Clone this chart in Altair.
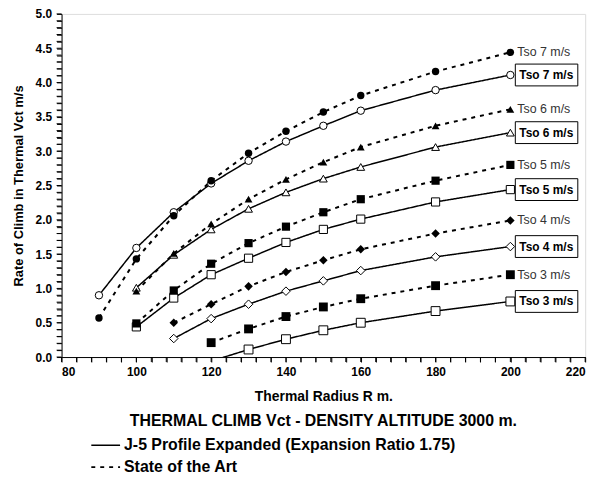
import altair as alt
import pandas as pd

FONT = "Liberation Sans"
KIND_J5 = "J-5 Profile Expanded (Expansion Ratio 1.75)"
KIND_SOTA = "State of the Art"
TITLE = "THERMAL CLIMB Vct - DENSITY ALTITUDE 3000 m."

tso_levels = ["7", "6", "5", "4", "3"]
shapes = ["circle", "triangle-up", "square", "diamond", "square"]
sizes_filled = [64, 90, 56, 64, 56]
sizes_open = [56, 80, 56, 56, 56]

radius_7 = [90, 100, 110, 120, 130, 140, 150, 160, 180, 200]
j5_7 = [0.90, 1.59, 2.11, 2.53, 2.86, 3.14, 3.37, 3.59, 3.89, 4.11]
sota_7 = [0.57, 1.43, 2.06, 2.57, 2.97, 3.29, 3.57, 3.81, 4.16, 4.44]

radius_6 = [100, 110, 120, 130, 140, 150, 160, 180, 200]
j5_6 = [1.01, 1.49, 1.86, 2.16, 2.40, 2.60, 2.77, 3.06, 3.27]
sota_6 = [0.96, 1.51, 1.94, 2.30, 2.59, 2.84, 3.06, 3.37, 3.61]

radius_5 = [100, 110, 120, 130, 140, 150, 160, 180, 200]
j5_5 = [0.44, 0.86, 1.20, 1.44, 1.67, 1.86, 2.01, 2.26, 2.44]
sota_5 = [0.49, 0.97, 1.36, 1.66, 1.90, 2.11, 2.30, 2.57, 2.80]

radius_4 = [110, 120, 130, 140, 150, 160, 180, 200]
j5_4 = [0.27, 0.56, 0.77, 0.96, 1.11, 1.26, 1.46, 1.61]
sota_4 = [0.50, 0.77, 1.03, 1.24, 1.41, 1.57, 1.80, 1.99]

radius_3 = [120, 130, 140, 150, 160, 180, 200]
j5_3 = [-0.06, 0.11, 0.26, 0.39, 0.50, 0.67, 0.81]
sota_3 = [0.21, 0.41, 0.59, 0.73, 0.85, 1.04, 1.20]

# axis ticks: every 4 m on x (labels every 20), every 0.1 on y (labels every 0.5)
x_ticks = list(range(80, 221, 4))
y_ticks = [round(i * 0.1, 1) for i in range(51)]

series = [
    ("7", radius_7, j5_7, sota_7),
    ("6", radius_6, j5_6, sota_6),
    ("5", radius_5, j5_5, sota_5),
    ("4", radius_4, j5_4, sota_4),
    ("3", radius_3, j5_3, sota_3),
]

rows = []
label_rows = []
for tso, rad, j5, sota in series:
    for r, v in zip(rad, j5):
        rows.append({"radius": r, "rate": v, "tso": tso, "kind": KIND_J5, "series": "j5_" + tso})
    for r, v in zip(rad, sota):
        rows.append({"radius": r, "rate": v, "tso": tso, "kind": KIND_SOTA, "series": "sota_" + tso})
    label_rows.append({"radius": rad[-1], "rate": j5[-1], "kind": KIND_J5, "label": f"Tso {tso} m/s"})
    label_rows.append({"radius": rad[-1], "rate": sota[-1], "kind": KIND_SOTA, "label": f"Tso {tso} m/s"})

df = pd.DataFrame(rows)
labels = pd.DataFrame(label_rows)
xticks_df = pd.DataFrame({"radius": x_ticks})
yticks_df = pd.DataFrame({"rate": y_ticks})

PLOT_W, PLOT_H = 528, 346
xscale = alt.Scale(domain=[80, 220], nice=False, zero=False)
yscale = alt.Scale(domain=[0, 5], nice=False, zero=True)

x_enc = alt.X(
    "radius:Q", scale=xscale,
    axis=alt.Axis(values=x_ticks, format="d", title="Thermal Radius R m.", orient="bottom",
                  labelExpr="datum.value % 20 === 0 ? datum.label : ''",
                  titleFontSize=14, titleFontWeight="bold", titleColor="black", titlePadding=12,
                  labelFontSize=12, labelFontWeight="bold", labelColor="black", labelPadding=5,
                  ticks=True, tickSize=5, tickWidth=1, tickOpacity=1, tickColor="black",
                  domain=True, domainColor="black", domainWidth=1, grid=False,
                  labelFont=FONT, titleFont=FONT, labelOverlap=False),
)
y_enc = alt.Y(
    "rate:Q", scale=yscale,
    axis=alt.Axis(values=y_ticks, format=".1f", title="Rate of Climb in Thermal Vct m/s", orient="left",
                  labelExpr="abs(datum.value * 2 - round(datum.value * 2)) < 0.001 ? datum.label : ''",
                  titleFontSize=13, titleFontWeight="bold", titleColor="black", titlePadding=10,
                  labelFontSize=12, labelFontWeight="bold", labelColor="black", labelPadding=5,
                  ticks=True, tickSize=5, tickWidth=1, tickOpacity=1, tickColor="black",
                  domain=True, domainColor="black", domainWidth=1, grid=False,
                  labelFont=FONT, titleFont=FONT, labelOverlap=False),
)

# explicit tick marks along both axes (scale-positioned from the tick lists)
x_tick_marks = alt.Chart(xticks_df).mark_tick(
    orient="vertical", size=5, thickness=1, color="black", opacity=1, clip=False
).encode(x=x_enc, y=alt.value(PLOT_H + 2.5))

y_tick_marks = alt.Chart(yticks_df).mark_tick(
    orient="horizontal", size=5, thickness=1, color="black", opacity=1, clip=False
).encode(y=y_enc, x=alt.value(-2.5))

lines = alt.Chart(df).mark_line(color="black", clip=True).encode(
    x=x_enc, y=y_enc, detail="series:N", order="radius:Q",
    strokeDash=alt.StrokeDash(
        "kind:N",
        scale=alt.Scale(domain=[KIND_J5, KIND_SOTA], range=[[1, 0], [4, 5]]),
        legend=alt.Legend(title=None, orient="none", legendX=29, legendY=427, symbolType="stroke",
                          symbolSize=841, symbolStrokeColor="black", symbolStrokeWidth=1.5,
                          labelFontSize=16, labelFontWeight="bold", labelColor="black", labelFont=FONT,
                          labelOffset=3, clipHeight=16, rowPadding=6, padding=0, labelLimit=600),
    ),
    strokeWidth=alt.StrokeWidth("kind:N", scale=alt.Scale(domain=[KIND_J5, KIND_SOTA], range=[1.5, 2.0]),
                                legend=None),
)

pts_open = alt.Chart(df).transform_filter(
    (alt.datum.kind == KIND_J5) & (alt.datum.rate >= 0)
).mark_point(filled=True, fill="white", stroke="black", strokeWidth=1, opacity=1).encode(
    x=x_enc, y=y_enc,
    shape=alt.Shape("tso:N", scale=alt.Scale(domain=tso_levels, range=shapes), legend=None),
    size=alt.Size("tso:N", scale=alt.Scale(domain=tso_levels, range=sizes_open), legend=None),
)

pts_filled = alt.Chart(df).transform_filter(
    alt.datum.kind == KIND_SOTA
).mark_point(filled=True, fill="black", strokeWidth=0, opacity=1).encode(
    x=x_enc, y=y_enc,
    shape=alt.Shape("tso:N", scale=alt.Scale(domain=tso_levels, range=shapes), legend=None),
    size=alt.Size("tso:N", scale=alt.Scale(domain=tso_levels, range=sizes_filled), legend=None),
)

lab_dash = alt.Chart(labels).transform_filter(alt.datum.kind == KIND_SOTA).mark_text(
    align="left", baseline="middle", dx=7, fontSize=12.5, color="#333333", font=FONT
).encode(x=x_enc, y=y_enc, text="label:N")

boxes = alt.Chart(labels).transform_filter(alt.datum.kind == KIND_J5).mark_rect(
    fill="white", stroke="black", strokeWidth=1, xOffset=5, x2Offset=68, yOffset=-11, y2Offset=11
).encode(x=x_enc, x2=alt.X2("radius:Q"), y=y_enc, y2=alt.Y2("rate:Q"))

lab_solid = alt.Chart(labels).transform_filter(alt.datum.kind == KIND_J5).mark_text(
    align="left", baseline="middle", dx=9, fontSize=12, fontWeight="bold", color="black", font=FONT
).encode(x=x_enc, y=y_enc, text="label:N")

title_text = alt.Chart(pd.DataFrame({"t": [TITLE]})).mark_text(
    align="center", baseline="middle", fontSize=16, fontWeight="bold", color="black", font=FONT
).encode(x=alt.value(264), y=alt.value(411), text="t:N")

chart = alt.layer(
    lines, pts_open, pts_filled, lab_dash, boxes, lab_solid, x_tick_marks, y_tick_marks, title_text
).properties(
    width=PLOT_W, height=PLOT_H,
    autosize=alt.AutoSizeParams(type="none"),
    padding={"left": 54, "top": 4, "right": 20, "bottom": 120},
).configure_view(stroke=None).configure(font=FONT)

chart.save("out.html", embed_options={"renderer": "svg", "actions": False})
